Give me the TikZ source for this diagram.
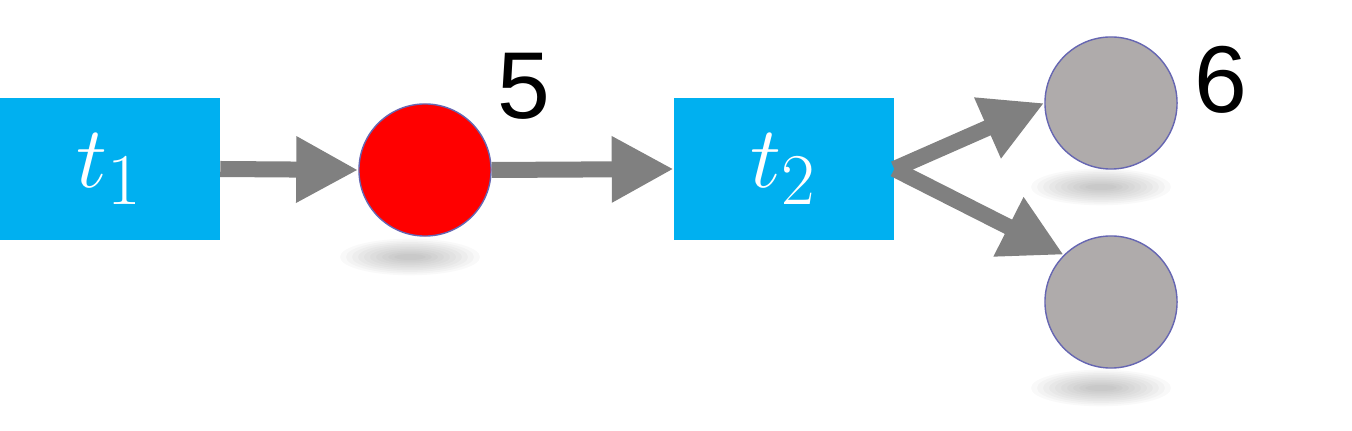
\documentclass[tikz,border=0pt]{standalone}
\usepackage{fontspec}
\setmainfont{Liberation Sans}
\usetikzlibrary{arrows.meta}
\definecolor{boxblue}{RGB}{0,176,240}
\definecolor{place}{RGB}{175,171,171}
\definecolor{arr}{RGB}{128,128,128}
\tikzset{
  trans/.style={fill=boxblue,text=white,minimum width=2.19cm,minimum height=1.42cm,inner sep=0},
  plc/.style={circle,draw=black!50!blue!60,line width=0.4pt,minimum size=1.32cm,inner sep=0},
  con/.style={draw=arr,line width=0.16cm,-{Triangle[length=0.62cm,width=0.62cm]},shorten >=0pt},
  lbl/.style={font=\fontsize{27}{30}\selectfont}
}
\begin{document}
\begin{tikzpicture}[x=0.01cm,y=-0.01cm]
\useasboundingbox (0,0) rectangle (1352,431);
\foreach \cx/\cy in {410/257,1101/187,1101/388}{
  \foreach \i in {1,...,10}{
    \fill[black,opacity=0.025] (\cx,\cy) ellipse ({76-6*\i} and {20-1.7*\i});
  }
}
\node[trans] (t1) at (110,169) {\fontsize{30}{34}\selectfont$t_1$};
\node[trans] (t2) at (784,169) {\fontsize{30}{34}\selectfont$t_2$};
\node[plc,fill=red] (p1) at (425,170) {};
\node[plc,fill=place] (p2) at (1111,103) {};
\node[plc,fill=place] (p3) at (1111,302) {};
\node[lbl] (l5) at (524,86) {5};
\node[lbl] (l6) at (1221,80) {6};
\draw[con] (t1.east) -- (p1.west);
\draw[con] (p1.east) -- (t2.west);
\draw[con] (t2.east) -- (p2.west);
\draw[con] (t2.east) -- (p3.north west);
\end{tikzpicture}
\end{document}
